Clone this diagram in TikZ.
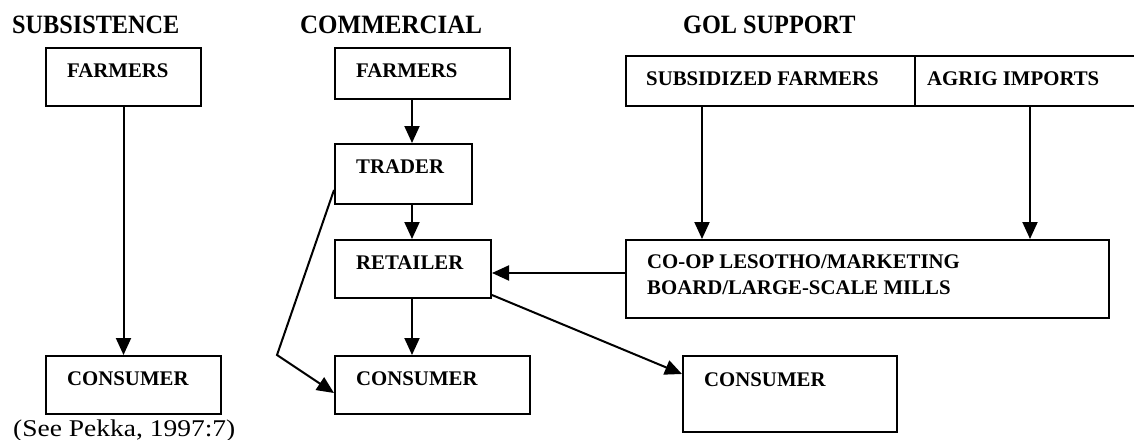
\documentclass[tikz,border=0pt]{standalone}
\usepackage{fontspec}
\setmainfont{Liberation Serif}
\usetikzlibrary{arrows.meta,calc}
\begin{document}
\begin{tikzpicture}[x=1pt,y=-1pt,
  box/.style={draw, line width=2pt, inner sep=0pt, anchor=north west},
  lbl/.style={anchor=north west, inner sep=0pt, font=\fontsize{20.8}{26}\selectfont\bfseries, align=left},
  head/.style={anchor=base west, inner sep=0pt, font=\fontsize{24.5}{28}\selectfont\bfseries},
  arr/.style={line width=2pt, -{Triangle[length=17pt,width=15pt]}}]
\useasboundingbox (0,0) rectangle (1134,439);
\clip (0,0) rectangle (1134,439);
% headings
\node[head] (h1) at (12,33) {\scalebox{0.99}[1.08]{SUBSISTENCE}};
\node[head] (h2) at (300,33) {\scalebox{1.02}[1.08]{COMMERCIAL}};
\node[head] (h3) at (683,33) {\scalebox{0.99}[1.08]{GOL SUPPORT}};
% boxes
\node[box, minimum width=155, minimum height=58] (sf) at (45,47) {};
\node[box, minimum width=175, minimum height=58] (sc) at (45,355) {};
\node[box, minimum width=175, minimum height=51] (cf) at (334,47) {};
\node[box, minimum width=137, minimum height=60] (ct) at (334,143) {};
\node[box, minimum width=156, minimum height=58] (cr) at (334,239) {};
\node[box, minimum width=195, minimum height=58] (cc) at (334,355) {};
\node[box, minimum width=289, minimum height=50] (gs) at (625,55) {};
\node[box, minimum width=240, minimum height=50] (ga) at (914,55) {};
\node[box, minimum width=483, minimum height=78] (gc) at (625,239) {};
\node[box, minimum width=214, minimum height=76] (gx) at (682,355) {};
% box texts
\node[lbl] (tsf) at ($(sf.north west)+(22,17)$) {FARMERS};
\node[lbl] (tsc) at ($(sc.north west)+(22,17)$) {CONSUMER};
\node[lbl] (tcf) at ($(cf.north west)+(22,17)$) {FARMERS};
\node[lbl] (tct) at ($(ct.north west)+(22,17)$) {TRADER};
\node[lbl] (tcr) at ($(cr.north west)+(22,17)$) {RETAILER};
\node[lbl] (tcc) at ($(cc.north west)+(22,17)$) {CONSUMER};
\node[lbl] (tgs) at ($(gs.north west)+(21,17)$) {SUBSIDIZED FARMERS};
\node[lbl] (tga) at ($(ga.north west)+(13,17)$) {AGRIG IMPORTS};
\node[lbl] (tgc) at ($(gc.north west)+(22,16)$) {CO-OP LESOTHO/MARKETING\\BOARD/LARGE-SCALE MILLS};
\node[lbl] (tgx) at ($(gx.north west)+(22,18)$) {CONSUMER};
% caption
\node[anchor=base west, inner sep=0pt, font=\fontsize{24}{28}\selectfont] (src) at (13,436) {\scalebox{1.145}[1]{(See Pekka, 1997:7)}};
% connectors
\draw[arr] (sf.south) -- (sf.south |- sc.north);
\coordinate (cx) at (412,0);
\draw[arr] (cf.south -| cx) -- (ct.north -| cx);
\draw[arr] (ct.south -| cx) -- (cr.north -| cx);
\draw[arr] (cr.south -| cx) -- (cc.north -| cx);
\coordinate (tb) at (277,355);
\draw[arr] ($(ct.south west)+(0,-15)$) -- (tb) -- ($(cc.north west)+(0,38)$);
\coordinate (sx) at (702,0);
\coordinate (ax) at (1030,0);
\draw[arr] (gs.south -| sx) -- (gc.north -| sx);
\draw[arr] (ga.south -| ax) -- (gc.north -| ax);
\coordinate (cy) at ($(gc.north west)+(0,34)$);
\draw[arr] (cy) -- (cy -| cr.east);
\draw[arr] ($(cr.south east)+(0,-4)$) -- ($(gx.north west)+(0,19)$);
\end{tikzpicture}
\end{document}
